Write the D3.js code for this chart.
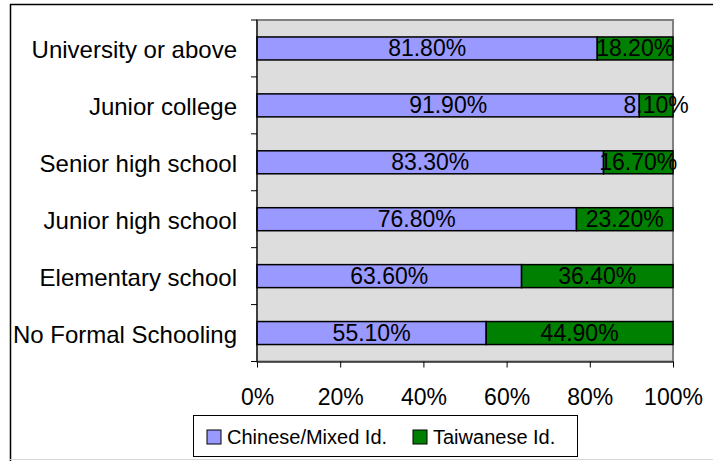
<!DOCTYPE html>
<html>
<head>
<meta charset="utf-8">
<script src="https://cdn.jsdelivr.net/npm/d3@7"></script>
<style>
  html, body { margin: 0; padding: 0; background: #fff; }
  svg { display: block; font-family: "Liberation Sans", Arial, sans-serif; }
</style>
</head>
<body>
<svg id="chart" width="713" height="461"></svg>
<script>
const categories = ["University or above", "Junior college", "Senior high school", "Junior high school", "Elementary school", "No Formal Schooling"];
const chineseMixed = [81.8, 91.9, 83.3, 76.8, 63.6, 55.1];
const taiwanese = [18.2, 8.1, 16.7, 23.2, 36.4, 44.9];
const xTicks = [0, 20, 40, 60, 80, 100];
const seriesNames = ["Chinese/Mixed Id.", "Taiwanese Id."];
const seriesColors = ["#9999FF", "#008000"];

const svg = d3.select("#chart");
const plot = { left: 257, right: 673, top: 20, bottom: 361.5 };

// outer frame
svg.append("line").attr("x1", 10.5).attr("x2", 10.5).attr("y1", 4).attr("y2", 461).attr("stroke", "#000").attr("stroke-width", 1.5);
svg.append("line").attr("x1", 10).attr("x2", 713).attr("y1", 4.5).attr("y2", 4.5).attr("stroke", "#000").attr("stroke-width", 1.5);
svg.append("line").attr("x1", 10).attr("x2", 713).attr("y1", 459.5).attr("y2", 459.5).attr("stroke", "#d8d8d8").attr("stroke-width", 1);

const x = d3.scaleLinear().domain([0, 100]).range([plot.left, plot.right]);
const y = d3.scaleBand().domain(categories).range([plot.top, plot.bottom]).paddingInner(0.596).paddingOuter(0.298);

// plot background
svg.append("rect").attr("x", plot.left).attr("y", plot.top)
  .attr("width", plot.right - plot.left).attr("height", plot.bottom - plot.top)
  .attr("fill", "#DDDDDD").attr("stroke", "#808080").attr("stroke-width", 2);

// stacked data
const rows = categories.map((c, i) => ({ cat: c, vals: [chineseMixed[i], taiwanese[i]] }));
const segs = [];
rows.forEach(r => {
  let acc = 0;
  r.vals.forEach((v, s) => {
    segs.push({ cat: r.cat, s, x0: acc, x1: acc + v, v });
    acc += v;
  });
});

svg.append("g").selectAll("rect").data(segs).join("rect")
  .attr("x", d => x(d.x0))
  .attr("y", d => y(d.cat))
  .attr("width", d => x(d.x1) - x(d.x0))
  .attr("height", y.bandwidth())
  .attr("fill", d => seriesColors[d.s])
  .attr("stroke", "#000").attr("stroke-width", 1.5);

svg.append("g").selectAll("text").data(segs).join("text")
  .attr("x", d => (x(d.x0) + x(d.x1)) / 2)
  .attr("y", d => y(d.cat) + y.bandwidth() / 2 + 8)
  .attr("text-anchor", "middle")
  .attr("font-size", 23)
  .attr("fill", "#000")
  .text(d => d.v.toFixed(2) + "%");

// Y axis ticks at band boundaries
const step = y.step();
const yTickPos = d3.range(categories.length + 1).map(i => plot.top + i * step);
svg.append("g").selectAll("line").data(yTickPos).join("line")
  .attr("x1", plot.left - 6).attr("x2", plot.left)
  .attr("y1", d => d).attr("y2", d => d)
  .attr("stroke", "#000").attr("stroke-width", 1);

// y axis line
svg.append("line").attr("x1", plot.left).attr("x2", plot.left).attr("y1", plot.top).attr("y2", plot.bottom)
  .attr("stroke", "#000").attr("stroke-width", 1);

// category labels
svg.append("g").selectAll("text").data(categories).join("text")
  .attr("x", 237)
  .attr("y", d => y(d) + y.bandwidth() / 2 + 10)
  .attr("text-anchor", "end")
  .attr("font-size", 24)
  .attr("fill", "#000")
  .text(d => d);

// X axis
const xAxis = d3.axisBottom(x).tickValues(xTicks).tickFormat(d => d + "%").tickSize(6).tickSizeOuter(0);
const gx = svg.append("g").attr("transform", `translate(0,${plot.bottom})`).call(xAxis);
gx.select(".domain").attr("stroke", "#000");
gx.selectAll(".tick line").attr("stroke", "#000");
gx.selectAll(".tick text").attr("font-size", 23).attr("font-family", "Liberation Sans, Arial, sans-serif")
  .attr("fill", "#000").attr("dy", 0).attr("y", 43.5);

// legend
const lg = svg.append("g");
lg.append("rect").attr("x", 193.5).attr("y", 415.5).attr("width", 384).attr("height", 41)
  .attr("fill", "#fff").attr("stroke", "#000").attr("stroke-width", 1);
const legendX = [207, 413];
seriesNames.forEach((n, i) => {
  lg.append("rect").attr("x", legendX[i]).attr("y", 430).attr("width", 14).attr("height", 14)
    .attr("fill", seriesColors[i]).attr("stroke", "#000").attr("stroke-width", 1);
  lg.append("text").attr("x", legendX[i] + 20).attr("y", 444).attr("font-size", 20).attr("fill", "#000").text(n);
});
</script>
</body>
</html>
